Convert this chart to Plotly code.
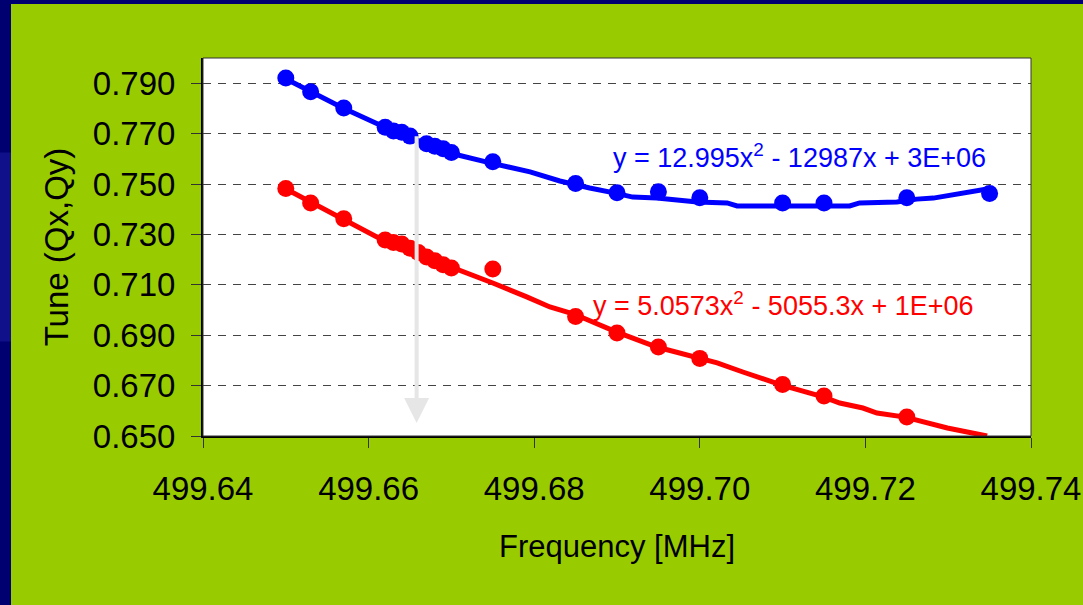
import plotly.graph_objects as go

# ---- data ----
freq_qx = [499.650, 499.653, 499.657, 499.662, 499.663, 499.664, 499.665, 499.667,
           499.668, 499.669, 499.670, 499.675, 499.685, 499.690, 499.695, 499.700,
           499.710, 499.715, 499.725, 499.735]
tune_qx = [0.7921, 0.7866, 0.7802, 0.7725, 0.7710, 0.7705, 0.7690, 0.7660,
           0.7650, 0.7640, 0.7625, 0.7588, 0.7502, 0.7465, 0.7469, 0.7445,
           0.7425, 0.7425, 0.7445, 0.7462]

freq_qy = [499.650, 499.653, 499.657, 499.662, 499.663, 499.664, 499.665, 499.666,
           499.667, 499.668, 499.669, 499.670, 499.675, 499.685, 499.690, 499.695,
           499.700, 499.710, 499.715, 499.725]
tune_qy = [0.7482, 0.7425, 0.7362, 0.7278, 0.7268, 0.7262, 0.7245, 0.7228,
           0.7210, 0.7195, 0.7180, 0.7167, 0.7163, 0.6974, 0.6909, 0.6853,
           0.6808, 0.6704, 0.6659, 0.6575]

# trend lines as drawn in the picture
trend_qx_f = [499.6498, 499.6530, 499.6569, 499.6619, 499.6662, 499.6698, 499.6748,
              499.6795, 499.6831, 499.6849, 499.6867, 499.6898, 499.6919, 499.6948,
              499.6976, 499.6997, 499.7033, 499.7045, 499.7097, 499.7181, 499.7193,
              499.7238, 499.7262, 499.7282, 499.7347]
trend_qx_t = [0.7921, 0.7865, 0.7802, 0.7726, 0.7671, 0.7623, 0.7583,
              0.7548, 0.7512, 0.7497, 0.7484, 0.7464, 0.7448, 0.7444,
              0.7433, 0.7429, 0.7425, 0.7413, 0.7413, 0.7413, 0.7425,
              0.7429, 0.7440, 0.7444, 0.7480]

trend_qy_f = [499.6498, 499.6530, 499.6569, 499.6610, 499.6662, 499.6710, 499.6750,
              499.6791, 499.6819, 499.6848, 499.6899, 499.6948, 499.6997, 499.7021,
              499.7052, 499.7073, 499.7099, 499.7149, 499.7169, 499.7197, 499.7214,
              499.7248, 499.7282, 499.7299, 499.7323, 499.7347]
trend_qy_t = [0.7484, 0.7429, 0.7361, 0.7290, 0.7218, 0.7159, 0.7107,
              0.7052, 0.7012, 0.6984, 0.6913, 0.6853, 0.6810, 0.6790,
              0.6754, 0.6730, 0.6702, 0.6655, 0.6631, 0.6611, 0.6591,
              0.6575, 0.6544, 0.6532, 0.6516, 0.6500]

y_ticks = [0.650, 0.670, 0.690, 0.710, 0.730, 0.750, 0.770, 0.790]
x_ticks = [499.64, 499.66, 499.68, 499.70, 499.72, 499.74]

eq_qx = "y = 12.995x<sup>2</sup> - 12987x + 3E+06"
eq_qy = "y = 5.0573x<sup>2</sup> - 5055.3x + 1E+06"

BLUE = "#0000FF"
RED = "#FF0000"
GREEN = "#99CC00"
NAVY = "#000070"
FONT = "Liberation Sans, Arial, sans-serif"

fig = go.Figure()
fig.add_trace(go.Scatter(x=trend_qx_f, y=trend_qx_t, mode="lines",
                         line=dict(color=BLUE, width=5), hoverinfo="skip"))
fig.add_trace(go.Scatter(x=trend_qy_f, y=trend_qy_t, mode="lines",
                         line=dict(color=RED, width=5), hoverinfo="skip"))
fig.add_trace(go.Scatter(x=freq_qx, y=tune_qx, mode="markers",
                         marker=dict(color=BLUE, size=17, line=dict(width=0))))
fig.add_trace(go.Scatter(x=freq_qy, y=tune_qy, mode="markers",
                         marker=dict(color=RED, size=17, line=dict(width=0))))

# navy border strips (left and top) around the green slide background
fig.add_shape(type="rect", xref="paper", yref="paper", layer="below",
              x0=-0.30, x1=-0.2319, y0=-0.50, y1=1.20,
              fillcolor=NAVY, line=dict(width=0))
fig.add_shape(type="rect", xref="paper", yref="paper", layer="below",
              x0=-0.30, x1=1.10, y0=1.1429, y1=1.20,
              fillcolor=NAVY, line=dict(width=0))
# lighter blue swirl hint in the navy strip
fig.add_shape(type="rect", xref="paper", yref="paper", layer="below",
              x0=-0.30, x1=-0.2319, y0=0.25, y1=0.75,
              fillcolor="#10108a", line=dict(width=0))
# plot area outline
fig.add_shape(type="rect", xref="paper", yref="paper", layer="above",
              x0=0, x1=1, y0=0, y1=1, line=dict(color="#333333", width=1))

fig.add_annotation(x=499.7121, y=0.7612, xref="x", yref="y", text=eq_qx,
                   showarrow=False, font=dict(family=FONT, size=27, color=BLUE))
fig.add_annotation(x=499.7101, y=0.7025, xref="x", yref="y", text=eq_qy,
                   showarrow=False, font=dict(family=FONT, size=27, color=RED))

# grey arrow
fig.add_annotation(x=499.6658, y=0.6552, ax=499.6658, ay=0.7695,
                   xref="x", yref="y", axref="x", ayref="y", text="",
                   showarrow=True, arrowhead=2, arrowsize=1.25, arrowwidth=4,
                   arrowcolor="#E6E6E6", standoff=0)

fig.update_layout(
    width=1083, height=605, autosize=False,
    margin=dict(l=203, r=52, t=58, b=169),
    paper_bgcolor=GREEN, plot_bgcolor="white",
    showlegend=False,
    font=dict(family=FONT, color="black"),
    xaxis=dict(range=[499.64, 499.74], tickvals=x_ticks,
               ticktext=[f"{v:.2f}" for v in x_ticks],
               showgrid=False, zeroline=False, automargin=False,
               showline=True, linecolor="black", linewidth=2,
               ticks="outside", ticklen=10, tickwidth=1, tickcolor="#333",
               ticklabelstandoff=12,
               tickfont=dict(size=33, color="black"),
               title=dict(text="Frequency [MHz]", font=dict(size=31, color="black"),
                          standoff=30)),
    yaxis=dict(range=[0.65, 0.80], tickvals=y_ticks,
               ticktext=[f"{v:.3f}" for v in y_ticks],
               showgrid=True, gridcolor="#444444", gridwidth=1, griddash="8px,7px",
               zeroline=False, automargin=False,
               showline=True, linecolor="black", linewidth=2,
               ticks="outside", ticklen=10, tickwidth=1, tickcolor="#333",
               ticklabelstandoff=9,
               tickfont=dict(size=33, color="black"),
               title=dict(text="Tune (Qx,Qy)", font=dict(size=33, color="black"),
                          standoff=14)),
)

fig.write_html("out.html")
